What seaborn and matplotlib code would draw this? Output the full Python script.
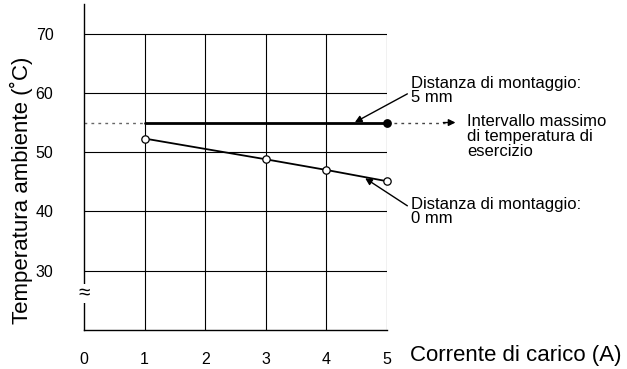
import matplotlib
matplotlib.use("Agg")
import matplotlib.pyplot as plt
import seaborn as sns
import pandas as pd

# ---- data ----
current_5mm = [1, 5]
temp_5mm = [55, 55]
current_0mm = [1, 3, 4, 5]
temp_0mm = [52.3, 48.8, 47.0, 45.1]
max_temp = 55
x_ticks = [0, 1, 2, 3, 4, 5]
y_ticks = [30, 40, 50, 60, 70]

sns.set_style("white")
plt.rcParams['font.family'] = ['Liberation Sans', 'DejaVu Sans']
plt.rcParams['text.color'] = 'black'
plt.rcParams['axes.labelcolor'] = 'black'
plt.rcParams['xtick.color'] = 'black'
plt.rcParams['ytick.color'] = 'black'

fig = plt.figure(figsize=(6.27, 3.69), dpi=100)
ax = fig.add_axes([84/627, 1-330/369, (387-84)/627, (330-4)/369])
ax.set_xlim(0, 5)
ax.set_ylim(20, 75)

# grid (manual, limited to 70)
ax.hlines(y_ticks, 0, 5, color='black', lw=0.8, zorder=1)
ax.vlines(x_ticks[1:], 20, 70, color='black', lw=0.8, zorder=1)

# dotted max-temperature reference
ax.plot([0, 1], [max_temp, max_temp], ls=(0, (2, 3)), color='#666666', lw=1, zorder=2)
ax.plot([5, 5.95], [max_temp, max_temp], ls=(0, (2, 3)), color='#444444', lw=1,
        zorder=2, clip_on=False)
ax.annotate('', xy=(6.13, max_temp), xytext=(5.93, max_temp),
            arrowprops=dict(arrowstyle='-|>', color='black', lw=1,
                            mutation_scale=10, shrinkA=0, shrinkB=0),
            annotation_clip=False)

df5 = pd.DataFrame({'I': current_5mm, 'T': temp_5mm})
df0 = pd.DataFrame({'I': current_0mm, 'T': temp_0mm})
sns.lineplot(data=df5, x='I', y='T', ax=ax, color='black', lw=2, zorder=3)
sns.lineplot(data=df0, x='I', y='T', ax=ax, color='black', lw=1.3, zorder=3,
             marker='o', markersize=5.3, markerfacecolor='white',
             markeredgecolor='black', markeredgewidth=0.9)
ax.plot([5], [max_temp], 'o', color='black', ms=5.3, zorder=4, clip_on=False)

for c in ax.lines:
    c.set_clip_on(False)

# annotations
ax.annotate('Distanza di montaggio:\n5 mm', xy=(4.47, 55.05), xytext=(5.39, 62.9),
            fontsize=12, va='top', ha='left', linespacing=0.98,
            arrowprops=dict(arrowstyle='-|>', color='black', lw=1, mutation_scale=10,
                            shrinkA=0, shrinkB=0, relpos=(0, 0.45)),
            annotation_clip=False)
ax.annotate('Distanza di montaggio:\n0 mm', xy=(4.64, 45.6), xytext=(5.39, 42.5),
            fontsize=12, va='top', ha='left', linespacing=0.98,
            arrowprops=dict(arrowstyle='-|>', color='black', lw=1, mutation_scale=10,
                            shrinkA=0, shrinkB=0, relpos=(0, 0.62)),
            annotation_clip=False)
ax.text(6.32, 56.4, 'Intervallo massimo\ndi temperatura di\nesercizio',
        fontsize=12, va='top', ha='left', linespacing=0.98, clip_on=False)

# axis break symbol
ax.text(0, 26.2, '≈', fontsize=15, ha='center', va='center', rotation=0,
        bbox=dict(facecolor='white', edgecolor='none', pad=0), zorder=5,
        clip_on=False)

# axes styling
for s in ['top', 'right']:
    ax.spines[s].set_visible(False)
for s in ['left', 'bottom']:
    ax.spines[s].set_color('black')
    ax.spines[s].set_linewidth(1)
ax.set_xticks(x_ticks)
ax.set_yticks(y_ticks)
ax.set_xticklabels([str(v) for v in x_ticks])
ax.set_yticklabels([str(v) for v in y_ticks])
ax.tick_params(axis='both', length=0, labelsize=11.5, labelcolor='black')
ax.tick_params(axis='y', pad=22)
ax.tick_params(axis='x', pad=16)

ax.set_xlabel('Corrente di carico (A)', fontsize=16, ha='left', va='center')
ax.xaxis.set_label_coords(1.076, -0.077)
ax.set_ylabel('Temperatura ambiente (˚C)', fontsize=16, va='center')
ax.yaxis.set_label_coords(-0.205, 0.43)

fig.savefig('out.png', dpi=100)
